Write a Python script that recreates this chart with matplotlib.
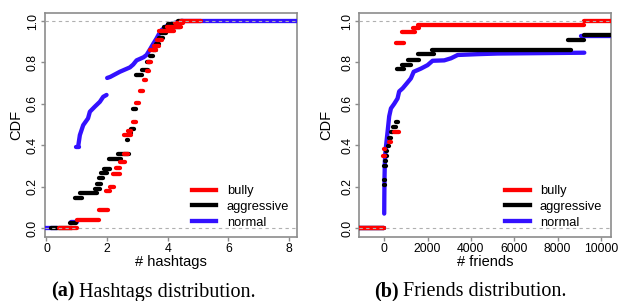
import matplotlib
matplotlib.use("Agg")
import matplotlib.pyplot as plt
from matplotlib.lines import Line2D

# cores das classes
RED = "#ff0000"
BLACK = "#000000"
BLUE = "#3311ff"

series_names = ["bully", "aggressive", "normal"]

# ---- (a) hashtags: degraus (inicio, fim, nivel) ----
hash_bully_x0 = [0.40, 1.00, 1.72, 1.97, 2.08, 2.20, 2.30, 2.42, 2.55, 2.56, 2.70, 2.85, 2.95, 3.08, 3.20, 3.30, 3.36, 3.42, 3.55, 3.65, 3.72, 3.98, 4.25, 4.42]
hash_bully_x1 = [1.02, 1.72, 2.03, 2.10, 2.22, 2.42, 2.42, 2.58, 2.70, 2.80, 2.80, 2.95, 3.05, 3.18, 3.28, 3.38, 3.45, 3.60, 3.70, 3.80, 4.20, 4.45, 4.50, 5.10]
hash_bully_y = [0.00, 0.04, 0.088, 0.18, 0.20, 0.26, 0.29, 0.32, 0.36, 0.45, 0.47, 0.513, 0.605, 0.66, 0.715, 0.76, 0.80, 0.86, 0.88, 0.91, 0.95, 0.97, 0.99, 1.00]

hash_aggr_x0 = [0.15, 0.78, 0.95, 1.12, 1.60, 1.66, 1.72, 1.80, 1.88, 2.05, 2.36, 2.66, 2.72, 2.78, 2.86, 2.96, 3.15, 3.30, 3.40, 3.50, 3.60, 3.70, 3.78, 3.88, 4.00, 4.35]
hash_aggr_x1 = [0.85, 0.98, 1.18, 1.65, 1.75, 1.80, 1.86, 1.98, 2.08, 2.45, 2.72, 2.70, 2.80, 2.88, 2.95, 3.15, 3.35, 3.42, 3.52, 3.62, 3.72, 3.85, 3.95, 4.40, 4.30, 4.50]
hash_aggr_y = [0.00, 0.025, 0.145, 0.17, 0.19, 0.215, 0.24, 0.265, 0.285, 0.335, 0.358, 0.425, 0.46, 0.48, 0.575, 0.74, 0.763, 0.80, 0.83, 0.86, 0.89, 0.92, 0.94, 0.97, 0.985, 1.00]

hash_norm_x0 = [-0.05, 0.82, 0.97, 4.45]
hash_norm_x1 = [0.35, 0.99, 1.08, 8.30]
hash_norm_y = [0.00, 0.03, 0.393, 1.00]
# trechos "continuos" da curva normal
hash_norm_c1x = [1.05, 1.10, 1.21, 1.37, 1.43, 1.59, 1.76, 1.87, 1.98]
hash_norm_c1y = [0.40, 0.449, 0.497, 0.53, 0.562, 0.586, 0.61, 0.634, 0.643]
hash_norm_c2x = [2.00, 2.10, 2.42, 2.75, 2.86, 2.97, 3.20, 3.30, 3.42, 3.52, 3.63, 3.70, 3.80, 4.00, 4.20, 4.45]
hash_norm_c2y = [0.725, 0.73, 0.755, 0.776, 0.79, 0.81, 0.825, 0.836, 0.865, 0.89, 0.916, 0.935, 0.957, 0.98, 0.99, 1.00]

# ---- (b) friends ----
fr_bully_x0 = [-1150, -60, -30, 230, 450, 540, 800, 1350, 1560, 9230]
fr_bully_x1 = [0, 20, 40, 320, 680, 920, 1440, 1600, 9230, 10460]
fr_bully_y = [0.00, 0.35, 0.38, 0.414, 0.465, 0.895, 0.948, 0.965, 0.982, 1.00]

fr_aggr_x0 = [-1150, -20, -20, 10, 40, 60, 90, 160, 230, 290, 390, 530, 580, 800, 1100, 1560, 2190, 8460, 9230]
fr_aggr_x1 = [0, 20, 20, 60, 90, 110, 140, 220, 300, 420, 560, 620, 920, 1230, 1600, 2310, 8610, 9230, 10460]
fr_aggr_y = [0.00, 0.21, 0.232, 0.30, 0.325, 0.348, 0.372, 0.396, 0.433, 0.465, 0.49, 0.51, 0.768, 0.79, 0.812, 0.839, 0.86, 0.908, 0.932]

fr_norm_x0 = [-1150, 9100]
fr_norm_x1 = [0, 10460]
fr_norm_y = [0.00, 0.93]
fr_norm_cx = [0, 5, 15, 30, 50, 80, 155, 230, 310, 460, 615, 690, 850, 1050, 1230, 1360, 1690, 2000, 2230, 2770, 3080, 3390, 4310, 5230, 9230]
fr_norm_cy = [0.07, 0.15, 0.25, 0.32, 0.36, 0.393, 0.465, 0.54, 0.578, 0.60, 0.626, 0.66, 0.675, 0.70, 0.723, 0.755, 0.77, 0.787, 0.808, 0.81, 0.82, 0.836, 0.84, 0.843, 0.847]

y_ticks = [0.0, 0.2, 0.4, 0.6, 0.8, 1.0]
hash_ticks = [0, 2, 4, 6, 8]
fr_ticks = [0, 2000, 4000, 6000, 8000, 10000]

plt.rcParams['font.family'] = ['Liberation Sans', 'DejaVu Sans']
LW = 3.1
GRAY = "#8c8c8c"


def steps(ax, x0, x1, y, color):
    lc = ax.hlines(y, x0, x1, colors=color, linewidth=LW, zorder=3)
    lc.set_capstyle("round")


def curve(ax, x, y, color):
    ax.plot(x, y, color=color, linewidth=LW, solid_capstyle="round",
            solid_joinstyle="round", zorder=3)


def style(ax, xlim, xticks, xlabel, leg_x):
    ax.set_xlim(*xlim)
    ax.set_ylim(-0.043, 1.039)
    ax.axhline(0, color="#b0b0b0", lw=0.8, ls=(0, (3, 3)), zorder=4)
    ax.axhline(1, color="#b0b0b0", lw=0.8, ls=(0, (3, 3)), zorder=4)
    ax.set_xticks(xticks)
    ax.set_xticklabels([str(t) for t in xticks])
    ax.set_yticks(y_ticks)
    ax.set_yticklabels([f"{t:.1f}" for t in y_ticks], rotation=90, va="center")
    ax.tick_params(axis="both", length=3, width=1, color=GRAY, labelsize=8.8, pad=1.5)
    for s in ax.spines.values():
        s.set_color(GRAY)
        s.set_linewidth(1.2)
    ax.set_xlabel(xlabel, fontsize=10.5, labelpad=0)
    ax.set_ylabel("CDF", fontsize=10.5)
    handles = [Line2D([], [], color=c, lw=LW) for c in (RED, BLACK, BLUE)]
    ax.legend(handles, series_names, loc="upper left", bbox_to_anchor=(leg_x, 0.232),
              frameon=False, fontsize=9.3, handlelength=1.9, handletextpad=0.8,
              labelspacing=0.3, borderpad=0, borderaxespad=0)


fig = plt.figure(figsize=(6.23, 3.01), dpi=100)
ax1 = fig.add_axes([0.0722, 0.2126, 0.4045, 0.7444])
ax2 = fig.add_axes([0.5767, 0.2126, 0.4040, 0.7444])

# (a) hashtags
steps(ax1, hash_norm_x0, hash_norm_x1, hash_norm_y, BLUE)
curve(ax1, hash_norm_c1x, hash_norm_c1y, BLUE)
curve(ax1, hash_norm_c2x, hash_norm_c2y, BLUE)
steps(ax1, hash_aggr_x0, hash_aggr_x1, hash_aggr_y, BLACK)
steps(ax1, hash_bully_x0, hash_bully_x1, hash_bully_y, RED)
style(ax1, (-0.05, 8.26), hash_ticks, "# hashtags", 0.583)
ax1.yaxis.set_label_coords(-0.088, 0.5)

# (b) friends
steps(ax2, fr_norm_x0, fr_norm_x1, fr_norm_y, BLUE)
curve(ax2, fr_norm_cx, fr_norm_cy, BLUE)
steps(ax2, fr_aggr_x0, fr_aggr_x1, fr_aggr_y, BLACK)
steps(ax2, fr_bully_x0, fr_bully_x1, fr_bully_y, RED)
style(ax2, (-1150, 10460), fr_ticks, "# friends", 0.579)
ax2.yaxis.set_label_coords(-0.105, 0.5)

# legendas das subfiguras
serif = ['Liberation Serif', 'DejaVu Serif']
cap_y = 4.5 / 301
fig.text(75 / 623, cap_y, "(a)", fontsize=14.5, fontweight="bold", family=serif,
         ha="right", va="baseline")
fig.text(79 / 623, cap_y, "Hashtags distribution.", fontsize=14.5, family=serif,
         ha="left", va="baseline")
fig.text(399 / 623, cap_y, "(b)", fontsize=14.5, fontweight="bold", family=serif,
         ha="right", va="baseline")
fig.text(403 / 623, cap_y, "Friends distribution.", fontsize=14.5, family=serif,
         ha="left", va="baseline")

plt.savefig("out.png", dpi=100)
